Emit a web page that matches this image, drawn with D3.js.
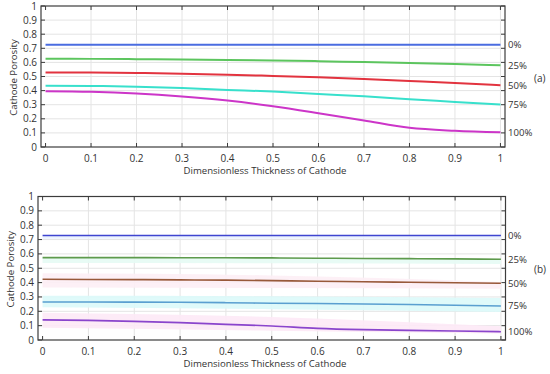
<!DOCTYPE html>
<html>
<head>
  <meta charset="utf-8">
  <script src="https://d3js.org/d3.v7.min.js"></script>
  <style>
  body { margin: 0; background: #fff; }
  * { font-family: "Open Sans", sans-serif; }
  </style>
</head>
<body>
<div id="chart"></div>
<script>
// thickness positions shared by every curve
const xs = [0, 0.1, 0.2, 0.3, 0.4, 0.5, 0.6, 0.7, 0.8, 0.9, 1];
const seriesNames = ["0%", "25%", "50%", "75%", "100%"];
const xTicks = [0, 0.1, 0.2, 0.3, 0.4, 0.5, 0.6, 0.7, 0.8, 0.9, 1];
const yTicks = [0, 0.1, 0.2, 0.3, 0.4, 0.5, 0.6, 0.7, 0.8, 0.9, 1];

// panel (a)
const a0   = [0.725, 0.725, 0.725, 0.725, 0.725, 0.725, 0.725, 0.725, 0.725, 0.725, 0.725];
const a25  = [0.626, 0.625, 0.623, 0.620, 0.617, 0.614, 0.609, 0.602, 0.595, 0.588, 0.579];
const a50  = [0.529, 0.528, 0.525, 0.520, 0.513, 0.504, 0.494, 0.482, 0.468, 0.454, 0.438];
const a75  = [0.435, 0.433, 0.428, 0.418, 0.405, 0.393, 0.376, 0.360, 0.339, 0.320, 0.301];
const a100 = [0.395, 0.391, 0.379, 0.358, 0.329, 0.289, 0.240, 0.188, 0.136, 0.115, 0.104];

// panel (b)
const b0   = [0.728, 0.728, 0.728, 0.728, 0.728, 0.728, 0.728, 0.728, 0.728, 0.728, 0.728];
const b25  = [0.574, 0.574, 0.574, 0.573, 0.573, 0.572, 0.570, 0.568, 0.567, 0.565, 0.563];
const b50  = [0.423, 0.422, 0.421, 0.419, 0.417, 0.414, 0.409, 0.406, 0.402, 0.399, 0.395];
const b75  = [0.265, 0.265, 0.264, 0.263, 0.260, 0.256, 0.254, 0.251, 0.247, 0.242, 0.237];
const b100 = [0.140, 0.137, 0.130, 0.121, 0.109, 0.098, 0.081, 0.072, 0.067, 0.063, 0.058];

// pale bands behind the (b) curves, given at x = 0, 0.5, 1
const bandX = [0, 0.5, 1];
const band0Lo   = [0.705, 0.705, 0.705], band0Hi   = [0.728, 0.728, 0.728];
const band25Lo  = [0.536, 0.534, 0.530], band25Hi  = [0.575, 0.573, 0.565];
const band50Lo  = [0.365, 0.362, 0.358], band50Hi  = [0.465, 0.450, 0.405];
const band75Lo  = [0.228, 0.215, 0.195], band75Hi  = [0.308, 0.305, 0.292];
const band100Lo = [0.085, 0.065, 0.045], band100Hi = [0.190, 0.160, 0.095];

const W = 550, H = 374;
const svg = d3.select("#chart").append("svg")
  .attr("width", W).attr("height", H);

const panels = [
  { tag: "(a)", box: { l: 41, r: 505, t: 6, b: 147 },
    series: [a0, a25, a50, a75, a100],
    colors: ["#4a6ce0", "#5cc55e", "#e2333f", "#38e0cc", "#cc35c8"],
    width: 2, bands: [] },
  { tag: "(b)", box: { l: 38, r: 505.5, t: 196.5, b: 340 },
    series: [b0, b25, b50, b75, b100],
    colors: ["#3f45d0", "#5e9a4c", "#98593a", "#5a9fd0", "#8a45cc"],
    width: 1.6,
    bands: [
      { lo: band0Lo, hi: band0Hi, fill: "#eaf2ff" },
      { lo: band25Lo, hi: band25Hi, fill: "#e6fbf4" },
      { lo: band50Lo, hi: band50Hi, fill: "#fdeef5" },
      { lo: band75Lo, hi: band75Hi, fill: "#dcfafa" },
      { lo: band100Lo, hi: band100Hi, fill: "#fde9f6" }
    ] }
];

panels.forEach(function(p) {
  const x = d3.scaleLinear().domain([-0.01, 1.01]).range([p.box.l, p.box.r]);
  const y = d3.scaleLinear().domain([0, 1]).range([p.box.b, p.box.t]);
  const g = svg.append("g");

  // grid
  g.append("g").selectAll("line.vg").data(xTicks.slice(1)).join("line")
    .attr("x1", d => x(d)).attr("x2", d => x(d))
    .attr("y1", p.box.t).attr("y2", p.box.b)
    .attr("stroke", "#e4e4e4").attr("stroke-width", 1);
  g.append("g").selectAll("line.hg").data(yTicks.slice(1, -1)).join("line")
    .attr("x1", p.box.l).attr("x2", p.box.r)
    .attr("y1", d => y(d)).attr("y2", d => y(d))
    .attr("stroke", "#e4e4e4").attr("stroke-width", 1);

  // bands
  p.bands.forEach(function(bd) {
    g.append("path")
      .datum(bandX.map((v, i) => [v, bd.lo[i], bd.hi[i]]))
      .attr("fill", bd.fill)
      .attr("opacity", 0.9)
      .attr("d", d3.area().curve(d3.curveMonotoneX)
        .x(d => x(d[0])).y0(d => y(d[1])).y1(d => y(d[2])));
  });

  // frame and inward ticks
  g.append("rect")
    .attr("x", p.box.l).attr("y", p.box.t)
    .attr("width", p.box.r - p.box.l).attr("height", p.box.b - p.box.t)
    .attr("fill", "none").attr("stroke", "#3c3c3c").attr("stroke-width", 1.2);
  const tk = 4;
  xTicks.forEach(function(v) {
    g.append("line").attr("x1", x(v)).attr("x2", x(v))
      .attr("y1", p.box.b).attr("y2", p.box.b - tk).attr("stroke", "#3c3c3c");
    g.append("line").attr("x1", x(v)).attr("x2", x(v))
      .attr("y1", p.box.t).attr("y2", p.box.t + tk).attr("stroke", "#3c3c3c");
  });
  yTicks.forEach(function(v) {
    g.append("line").attr("x1", p.box.l).attr("x2", p.box.l + tk)
      .attr("y1", y(v)).attr("y2", y(v)).attr("stroke", "#3c3c3c");
    g.append("line").attr("x1", p.box.r).attr("x2", p.box.r - tk)
      .attr("y1", y(v)).attr("y2", y(v)).attr("stroke", "#3c3c3c");
  });

  // tick labels
  g.append("g").selectAll("text").data(xTicks).join("text")
    .attr("x", d => x(d)).attr("y", p.box.b + 15)
    .attr("text-anchor", "middle").attr("font-size", 10).attr("fill", "#333")
    .text(d => d3.format("~g")(d));
  g.append("g").selectAll("text").data(yTicks).join("text")
    .attr("x", p.box.l - 4).attr("y", d => y(d) + 3.5)
    .attr("text-anchor", "end").attr("font-size", 10).attr("fill", "#333")
    .text(d => d3.format("~g")(d));

  // axis titles
  g.append("text")
    .attr("x", 265).attr("y", p.box.b + 27)
    .attr("text-anchor", "middle").attr("font-size", 9.6).attr("fill", "#333")
    .text("Dimensionless Thickness of Cathode");
  g.append("text")
    .attr("transform", `translate(${p.box.l - 24},${(p.box.t + p.box.b) / 2 + 1}) rotate(-90)`)
    .attr("text-anchor", "middle").attr("font-size", 9.6).attr("fill", "#333")
    .text("Cathode Porosity");

  // curves
  p.series.forEach(function(s, i) {
    g.append("path")
      .datum(s)
      .attr("fill", "none")
      .attr("stroke", p.colors[i])
      .attr("stroke-width", p.width)
      .attr("d", d3.line().curve(d3.curveMonotoneX)
        .x((d, j) => x(xs[j])).y(d => y(d)));
    g.append("text")
      .attr("x", 508).attr("y", y(s[s.length - 1]) + 3.5)
      .attr("font-size", 9.6).attr("fill", "#333")
      .text(seriesNames[i]);
  });

  g.append("text")
    .attr("x", 534).attr("y", (p.box.t + p.box.b) / 2 + 5)
    .attr("font-size", 10).attr("fill", "#333")
    .text(p.tag);
});
</script>
</body>
</html>
